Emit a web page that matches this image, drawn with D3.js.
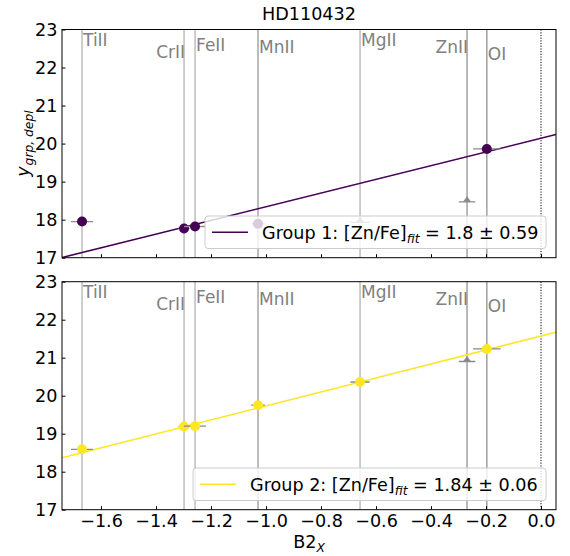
<!DOCTYPE html>
<html>
<head>
<meta charset="utf-8">
<script src="https://cdn.jsdelivr.net/npm/d3@7"></script>
<style>
  body { margin: 0; background: #fff; }
  svg { font-family: "DejaVu Sans", sans-serif; }
</style>
</head>
<body>
<div id="chart"></div>
<script>
// ---- data ----
const title = "HD110432";
const ions = ["TiII", "CrII", "FeII", "MnII", "MgII", "ZnII", "OI"];
const ionX = [-1.669, -1.298, -1.258, -1.029, -0.658, -0.269, -0.197];
const ionXErr = [0.04, 0.02, 0.04, 0.025, 0.035, 0.03, 0.05];
const group1Y = [17.95, 17.77, 17.82, 17.89, 17.93, 18.47, 19.86];
const group1Limit = [false, false, false, false, true, true, false];
const group2Y = [18.59, 19.19, 19.20, 19.75, 20.36, 20.90, 21.23];
const group2Limit = [false, false, false, false, false, true, false];
const fitSlopes = [1.8, 1.84];
const fitIntercepts = [20.14, 21.57];
const legendLabels = [["Group 1: [Zn/Fe]", "fit", " = 1.8 ± 0.59"], ["Group 2: [Zn/Fe]", "fit", " = 1.84 ± 0.06"]];
const xTicks = [-1.6, -1.4, -1.2, -1.0, -0.8, -0.6, -0.4, -0.2, 0.0];
const yTicks = [17, 18, 19, 20, 21, 22, 23];
const xDomain = [-1.7418, 0.0545];
const yDomain = [17, 23];

// ---- layout ----
const W = 570, H = 556;
const L = 62, R = 556;
const FS = 17.6;
const panels = [{ top: 29.5, bottom: 257.7 }, { top: 281.7, bottom: 509.7 }];
const colors = ["#440154", "#fde725"];
const labelOffsets = [16, 28.5, 21.5, 23.5, 16, 23.5, 30];
const labelAnchor = ["start", "end", "start", "start", "start", "end", "start"];
const lineShade = ["#bdbdbd", "#bdbdbd", "#bdbdbd", "#a6a6a6", "#bdbdbd", "#a0a0a0", "#a0a0a0"];

const svg = d3.select("#chart").append("svg").attr("width", W).attr("height", H);
const x = d3.scaleLinear().domain(xDomain).range([L, R]);

svg.append("text").attr("x", (L + R) / 2).attr("y", 20).attr("text-anchor", "middle")
  .attr("font-size", FS).attr("fill", "#000").text(title);

const groupsY = [group1Y, group2Y];
const groupsLim = [group1Limit, group2Limit];

panels.forEach((p, gi) => {
  const y = d3.scaleLinear().domain(yDomain).range([p.bottom, p.top]);
  const g = svg.append("g");
  const clipId = "clip" + gi;
  svg.append("clipPath").attr("id", clipId).append("rect")
    .attr("x", L).attr("y", p.top).attr("width", R - L).attr("height", p.bottom - p.top);
  const inner = g.append("g").attr("clip-path", `url(#${clipId})`);

  // vertical ion lines
  ions.forEach((ion, i) => {
    inner.append("line").attr("x1", x(ionX[i])).attr("x2", x(ionX[i]))
      .attr("y1", p.top).attr("y2", p.bottom).attr("stroke", lineShade[i]).attr("stroke-width", 1.5);
    const lx = labelAnchor[i] === "start" ? x(ionX[i]) + 1 : x(ionX[i]) + 1;
    inner.append("text").attr("x", lx).attr("y", p.top + labelOffsets[i])
      .attr("text-anchor", labelAnchor[i]).attr("font-size", 17).attr("fill", "#808080").text(ion);
  });
  // dotted zero line
  inner.append("line").attr("x1", x(0)).attr("x2", x(0)).attr("y1", p.top).attr("y2", p.bottom)
    .attr("stroke", "#000").attr("stroke-width", 1).attr("stroke-dasharray", "1.2,1.5");

  // fit line
  inner.append("line")
    .attr("x1", x(xDomain[0])).attr("y1", y(fitSlopes[gi] * xDomain[0] + fitIntercepts[gi]))
    .attr("x2", x(xDomain[1])).attr("y2", y(fitSlopes[gi] * xDomain[1] + fitIntercepts[gi]))
    .attr("stroke", colors[gi]).attr("stroke-width", 1.6);

  // points with error bars
  const ys = groupsY[gi], lim = groupsLim[gi];
  ions.forEach((ion, i) => {
    const cx = x(ionX[i]), cy = y(ys[i]);
    inner.append("line").attr("x1", x(ionX[i] - ionXErr[i])).attr("x2", x(ionX[i] + ionXErr[i]))
      .attr("y1", cy).attr("y2", cy).attr("stroke", "#8a8a8a").attr("stroke-width", 1.3);
    if (lim[i]) {
      inner.append("path").attr("d", `M${cx - 4},${cy} L${cx + 4},${cy} L${cx},${cy - 5.5} Z`)
        .attr("fill", "#8a8a8a");
    } else {
      inner.append("circle").attr("cx", cx).attr("cy", cy).attr("r", 5).attr("fill", colors[gi]);
    }
  });

  // legend
  const lgX = gi === 0 ? 205 : 193, lgW = 546 - lgX;
  const lgY = gi === 0 ? 216 : 468, lgH = 32.5;
  g.append("rect").attr("x", lgX).attr("y", lgY).attr("width", lgW).attr("height", lgH)
    .attr("rx", 3).attr("fill", "#fff").attr("fill-opacity", 0.8).attr("stroke", "#cccccc").attr("stroke-width", 1);
  g.append("line").attr("x1", lgX + 7).attr("x2", lgX + 43).attr("y1", lgY + lgH / 2).attr("y2", lgY + lgH / 2)
    .attr("stroke", colors[gi]).attr("stroke-width", 1.6);
  const t = g.append("text").attr("x", lgX + 57).attr("y", lgY + lgH / 2 + 6.5).attr("font-size", FS).attr("fill", "#000");
  t.append("tspan").text(legendLabels[gi][0]);
  t.append("tspan").attr("font-size", 12.3).attr("font-style", "italic").attr("dy", 4).text(legendLabels[gi][1]);
  t.append("tspan").attr("dy", -4).text(legendLabels[gi][2]);

  // frame
  g.append("rect").attr("x", L).attr("y", p.top).attr("width", R - L).attr("height", p.bottom - p.top)
    .attr("fill", "none").attr("stroke", "#000").attr("stroke-width", 1);

  // y axis
  const yAxis = d3.axisLeft(y).tickValues(yTicks).tickSizeInner(-3.5).tickSizeOuter(0).tickPadding(4.5)
    .tickFormat(d3.format("d"));
  const ya = g.append("g").attr("transform", `translate(${L},0)`).call(yAxis);
  ya.select(".domain").remove();
  ya.selectAll("text").attr("font-size", FS).attr("font-family", "DejaVu Sans").attr("fill", "#000");

  // x axis
  const xAxis = d3.axisBottom(x).tickValues(xTicks).tickSizeInner(-3.5).tickSizeOuter(0).tickPadding(5)
    .tickFormat(d => d3.format(".1f")(d).replace("-", "−"));
  const xa = g.append("g").attr("transform", `translate(0,${p.bottom})`).call(xAxis);
  xa.select(".domain").remove();
  xa.selectAll("text").attr("font-size", FS).attr("font-family", "DejaVu Sans").attr("fill", "#000");
  if (gi === 0) xa.selectAll("text").remove();
});

// y label
const yl = svg.append("text").attr("transform", `translate(29,${(panels[0].top + panels[0].bottom) / 2}) rotate(-90)`)
  .attr("text-anchor", "middle").attr("font-size", FS).attr("font-style", "italic");
yl.append("tspan").text("y");
yl.append("tspan").attr("font-size", 12.3).attr("dy", 4).attr("dx", 1).text("grp, depl");

// x label
const xl = svg.append("text").attr("x", (L + R) / 2).attr("y", 548).attr("text-anchor", "middle").attr("font-size", FS);
xl.append("tspan").text("B2");
xl.append("tspan").attr("font-size", 12.3).attr("font-style", "italic").attr("dy", 4).text("X");
</script>
</body>
</html>
